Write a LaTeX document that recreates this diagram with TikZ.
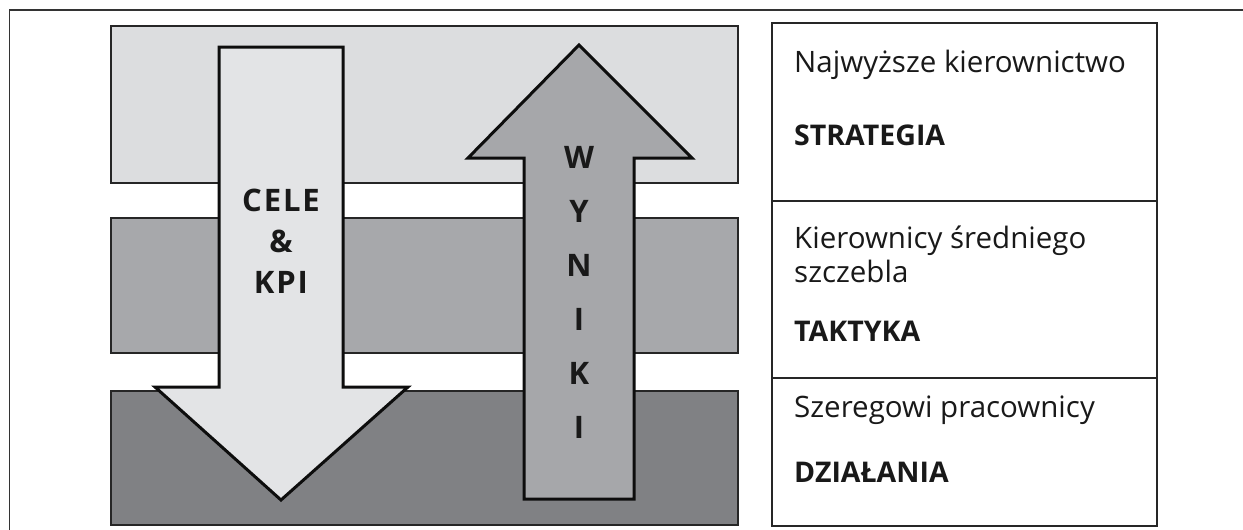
\documentclass[tikz,border=0pt]{standalone}
\usepackage{fontspec}
\setmainfont{Open Sans}
\begin{document}
\begin{tikzpicture}[x=1pt,y=-1pt,
  band/.style={draw=black!85, line width=1.6pt, inner sep=0pt, anchor=north west},
  bigarrow/.style={draw=black!95, line width=3pt, line join=miter},
  levelbox/.style={draw=black!85, line width=1.6pt, inner sep=0pt, anchor=north west, minimum width=385pt},
  lbl/.style={anchor=base west, inner sep=0pt, text=black!90},
  plain/.style={lbl, font=\fontsize{29.5}{32}\selectfont},
  strong/.style={lbl, font=\bfseries\fontsize{28.5}{32}\selectfont},
  arrowtxt/.style={anchor=base, inner sep=0pt, text=black!90, font=\bfseries\fontsize{31}{34}\selectfont\addfontfeature{LetterSpace=6}}
]
\definecolor{bandlight}{HTML}{DCDDDF}
\definecolor{bandmid}{HTML}{A7A8AB}
\definecolor{banddark}{HTML}{808184}
\definecolor{arrowdown}{HTML}{E3E4E6}
\definecolor{arrowup}{HTML}{A6A7AA}
\useasboundingbox (0,0) rectangle (1243,530);
\fill[white] (0,0) rectangle (1243,530);

% outer frame
\coordinate (frameTR) at (1243,10);
\coordinate (frameTL) at (9.5,10);
\coordinate (frameBL) at (9.5,530);
\draw[line width=1.6pt, black!80] (frameTR) -- (frameTL) -- (frameBL);

% management levels as bands
\node[band, fill=bandlight, minimum width=627pt, minimum height=157pt] (top) at (110,25) {};
\node[band, fill=bandmid, minimum width=627pt, minimum height=135pt] (mid) at (110,217) {};
\node[band, fill=banddark, minimum width=627pt, minimum height=134pt] (low) at (110,390) {};

% goals flow downwards
\draw[bigarrow, fill=arrowdown] (219,47) -- (343,47) -- (343,387) -- (408,387)
  -- (281,500) -- (155,387) -- (219,387) -- cycle;
\node[arrowtxt] (cele) at (281,211) {CELE};
\node[arrowtxt] (amp) at (281,252) {\&};
\node[arrowtxt] (kpi) at (281,293) {KPI};

% results flow upwards
\draw[bigarrow, fill=arrowup] (524,499) -- (634,499) -- (634,158) -- (692,158)
  -- (579,45) -- (468,158) -- (524,158) -- cycle;
\node[arrowtxt] (w1) at (579,168) {W};
\node[arrowtxt] (w2) at (579,222) {Y};
\node[arrowtxt] (w3) at (579,276) {N};
\node[arrowtxt] (w4) at (579,330) {I};
\node[arrowtxt] (w5) at (579,384) {K};
\node[arrowtxt] (w6) at (579,438) {I};

% level descriptions
\node[levelbox, minimum height=178pt] (lvl1) at (771,22) {};
\node[levelbox, minimum height=177pt] (lvl2) at (771,200) {};
\node[levelbox, minimum height=148pt] (lvl3) at (771,377) {};

\node[plain] (t1) at (794,72) {Najwyższe kierownictwo};
\node[strong] (s1) at (794,145) {STRATEGIA};
\node[plain] (t2) at (794,248) {Kierownicy średniego};
\node[plain] (t2b) at (794,282) {szczebla};
\node[strong] (s2) at (794,341) {TAKTYKA};
\node[plain] (t3) at (794,417) {Szeregowi pracownicy};
\node[strong] (s3) at (794,482) {DZIAŁANIA};
\end{tikzpicture}
\end{document}
